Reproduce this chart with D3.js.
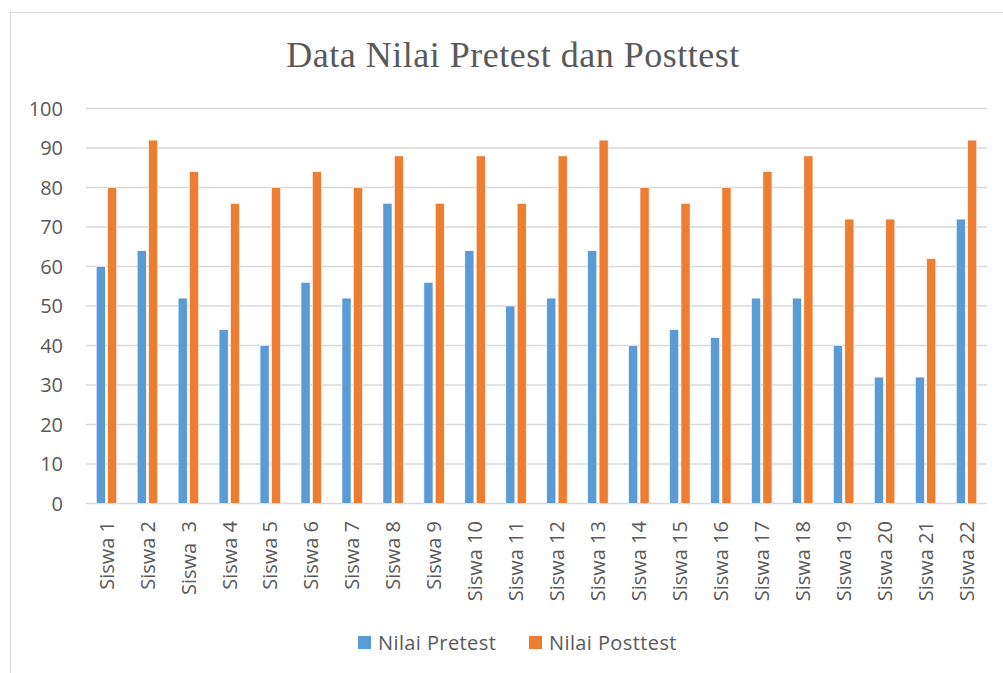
<!DOCTYPE html>
<html>
<head>
<meta charset="utf-8">
<script src="https://cdn.jsdelivr.net/npm/d3@7"></script>
<style>
  body { margin: 0; background: #fff; }
  text { white-space: pre; }
</style>
</head>
<body>
<div id="chart"></div>
<script>
// Data Nilai Pretest dan Posttest
const categories = [
    "Siswa 1", "Siswa 2", "Siswa  3", "Siswa 4", "Siswa 5", "Siswa 6", "Siswa 7",
    "Siswa 8", "Siswa 9", "Siswa 10", "Siswa 11", "Siswa 12", "Siswa 13", "Siswa 14",
    "Siswa 15", "Siswa 16", "Siswa 17", "Siswa 18", "Siswa 19", "Siswa 20", "Siswa 21", "Siswa 22"
];
const pretest = [60, 64, 52, 44, 40, 56, 52, 76, 56, 64, 50, 52, 64, 40, 44, 42, 52, 52, 40, 32, 32, 72];
const posttest = [80, 92, 84, 76, 80, 84, 80, 88, 76, 88, 76, 88, 92, 80, 76, 80, 84, 88, 72, 72, 62, 92];
const seriesNames = ["Nilai Pretest", "Nilai Posttest"];
const yTicks = [0, 10, 20, 30, 40, 50, 60, 70, 80, 90, 100];

const colors = ["#5b9bd5", "#ed7d31"];
const width = 1003;
const height = 673;
const font = "'Open Sans', sans-serif";

const svg = d3.select("#chart")
    .append("svg")
    .attr("width", width)
    .attr("height", height);

// chart frame
svg.append("rect")
    .attr("x", 10.5)
    .attr("y", 12.5)
    .attr("width", 1000)
    .attr("height", 700)
    .attr("fill", "#fff")
    .attr("stroke", "#d9d9d9");

svg.append("text")
    .attr("x", 513)
    .attr("y", 67)
    .attr("text-anchor", "middle")
    .attr("font-family", "'Liberation Serif', 'Times New Roman', serif")
    .attr("font-size", "36px")
    .attr("letter-spacing", "0.5px")
    .attr("fill", "#595959")
    .text("Data Nilai Pretest dan Posttest");

const x = d3.scaleBand()
    .domain(categories)
    .range([86, 987])
    .padding(0);

const y = d3.scaleLinear()
    .domain([0, 100])
    .range([503.5, 108.5]);

const xSub = d3.scaleBand()
    .domain([0, 1])
    .range([0, x.bandwidth() / 2])
    .paddingInner(0.2);

// gridlines
svg.append("g")
    .selectAll("line")
    .data(yTicks)
    .enter()
    .append("line")
    .attr("x1", 86)
    .attr("x2", 987)
    .attr("y1", d => y(d))
    .attr("y2", d => y(d))
    .attr("stroke", "#d9d9d9")
    .attr("stroke-width", 1.5);

// y labels
svg.append("g")
    .selectAll("text")
    .data(yTicks)
    .enter()
    .append("text")
    .attr("x", 63)
    .attr("y", d => y(d))
    .attr("dy", "0.36em")
    .attr("text-anchor", "end")
    .attr("font-family", font)
    .attr("font-size", "20px")
    .attr("fill", "#595959")
    .text(d => d);

// bars
const series = [pretest, posttest];
series.forEach((vals, s) => {
    svg.append("g")
        .selectAll("rect")
        .data(vals)
        .enter()
        .append("rect")
        .attr("x", (d, i) => x(categories[i]) + x.bandwidth() / 4 + xSub(s))
        .attr("y", d => y(d))
        .attr("width", xSub.bandwidth())
        .attr("height", d => y(0) - y(d))
        .attr("fill", colors[s])
        .attr("stroke", "#fff")
        .attr("stroke-width", 0.6);
});

// x labels (rotated)
svg.append("g")
    .selectAll("text")
    .data(categories)
    .enter()
    .append("text")
    .attr("transform", d => `translate(${x(d) + x.bandwidth() / 2},521) rotate(-90)`)
    .attr("dy", "0.36em")
    .attr("text-anchor", "end")
    .attr("font-family", font)
    .attr("font-size", "20px")
    .attr("fill", "#595959")
    .text(d => d);

// legend
const legendX = [358, 529];
const legend = svg.append("g")
    .selectAll("g")
    .data(seriesNames)
    .enter()
    .append("g")
    .attr("transform", (d, i) => `translate(${legendX[i]},636)`);

legend.append("rect")
    .attr("width", 13)
    .attr("height", 13)
    .attr("fill", (d, i) => colors[i]);

legend.append("text")
    .attr("x", 20)
    .attr("y", 6.5)
    .attr("dy", "0.36em")
    .attr("font-family", font)
    .attr("font-size", "20px")
    .attr("letter-spacing", "0.4px")
    .attr("fill", "#595959")
    .text(d => d);
</script>
</body>
</html>
